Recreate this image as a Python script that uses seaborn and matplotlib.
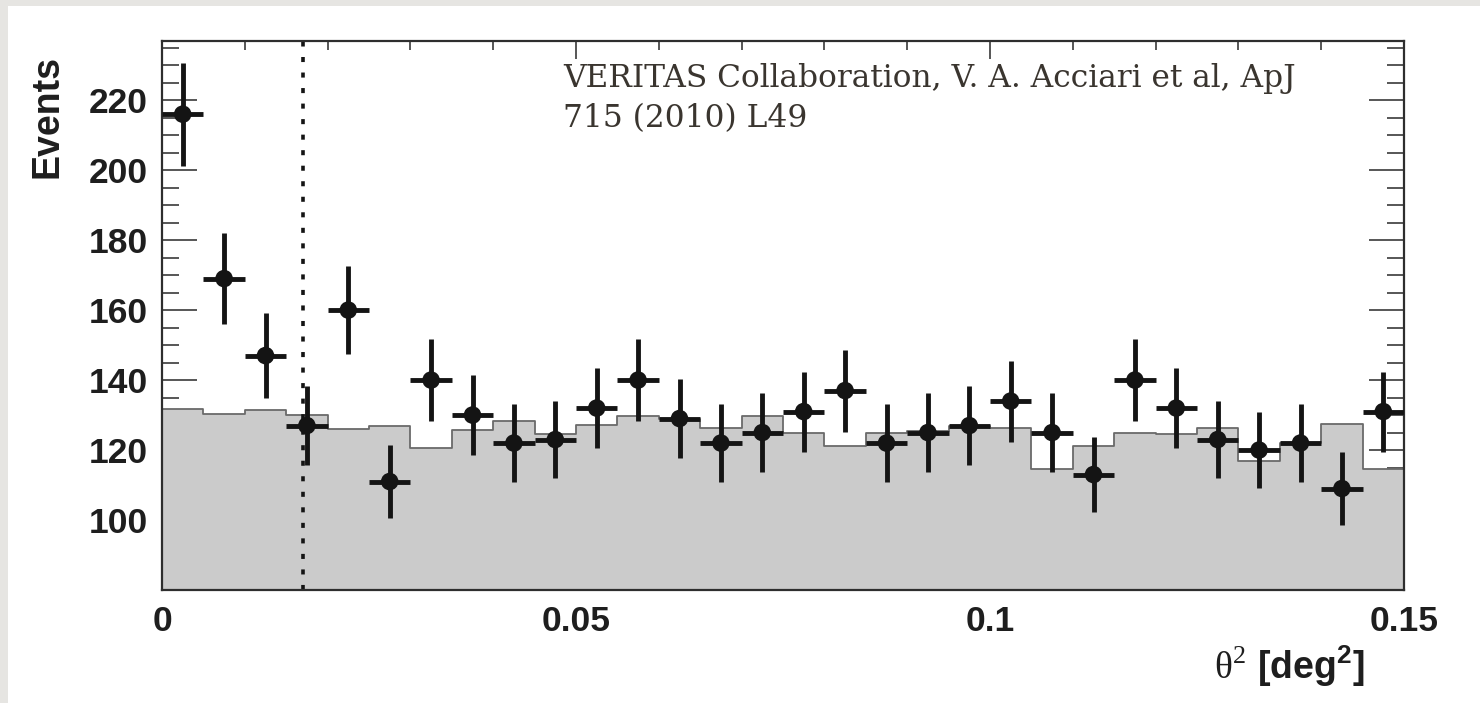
import numpy as np
import pandas as pd
import matplotlib
matplotlib.use("Agg")
import matplotlib.pyplot as plt
from matplotlib.patches import Rectangle
from matplotlib.ticker import MultipleLocator, FuncFormatter
import seaborn as sns

# theta^2 histogram: 30 bins of 0.005 deg^2 from 0 to 0.15
bin_width = 0.005
theta2_max = 0.15
on_counts = [216, 169, 147, 127, 160, 111, 140, 130, 122, 123,
             132, 140, 129, 122, 125, 131, 137, 122, 125, 127,
             134, 125, 113, 140, 132, 123, 120, 122, 109, 131]
bkg_counts = [131.8, 130.4, 131.4, 130.0, 126.1, 126.9, 120.5, 125.7, 128.3, 124.7,
              127.2, 129.6, 129.0, 126.2, 129.7, 124.8, 121.2, 124.8, 125.5, 126.9,
              126.2, 114.7, 121.2, 125.0, 124.5, 126.2, 116.9, 122.1, 127.4, 114.7]
theta2_cut = 0.017
x_ticks = [0, 0.05, 0.1, 0.15]
y_ticks = [100, 120, 140, 160, 180, 200, 220]
citation_lines = ["VERITAS Collaboration, V. A. Acciari et al, ApJ",
                  "715 (2010) L49"]

edges = np.linspace(0, theta2_max, len(on_counts) + 1)
centers = 0.5 * (edges[:-1] + edges[1:])
df = pd.DataFrame({"theta2": centers, "on": on_counts, "bkg": bkg_counts})
df["on_err"] = np.sqrt(df["on"])

sns.set_theme(style="ticks")
plt.rcParams["font.family"] = ["Liberation Sans", "DejaVu Sans"]
plt.rcParams["mathtext.fontset"] = "custom"
plt.rcParams["mathtext.rm"] = "Liberation Serif"
plt.rcParams["mathtext.bf"] = "Liberation Sans:bold"

W, H = 1480, 703
fig = plt.figure(figsize=(W / 100, H / 100), dpi=100, facecolor="white")
ax = fig.add_axes([162 / W, 1 - 590 / H, (1404 - 162) / W, (590 - 40.7) / H])
ax.set_facecolor("white")

# page border strips
fig.patches.append(Rectangle((0, 0), 8 / W, 1, transform=fig.transFigure,
                             facecolor="#e6e5e2", edgecolor="none", zorder=-5))
fig.patches.append(Rectangle((0, 1 - 6 / H), 1, 6 / H, transform=fig.transFigure,
                             facecolor="#e6e5e2", edgecolor="none", zorder=-5))

# background estimate as a filled step histogram
sns.histplot(data=df, x="theta2", weights="bkg", binwidth=bin_width,
             binrange=(0, theta2_max), element="step", fill=True,
             facecolor="#cbcbcb", edgecolor="#6a6a6a", linewidth=1.3, alpha=1,
             ax=ax, zorder=1)

# ON-region counts with Poisson errors
ax.errorbar(df["theta2"], df["on"], xerr=bin_width / 2, yerr=df["on_err"], fmt="none",
            ecolor="#141414", elinewidth=3.5, capsize=0, zorder=3)
sns.scatterplot(data=df, x="theta2", y="on", color="#141414", s=160,
                edgecolor="none", ax=ax, zorder=4)

# theta^2 cut
ax.axvline(theta2_cut, color="#141414", lw=2.6, ls=(0, (1.4, 2.9)), zorder=2)

ax.set_xlim(0, theta2_max)
ax.set_ylim(80, 237)
ax.set_xticks(x_ticks)
ax.set_yticks(y_ticks)
ax.xaxis.set_minor_locator(MultipleLocator(0.01))
ax.yaxis.set_minor_locator(MultipleLocator(5))
ax.xaxis.set_major_formatter(FuncFormatter(lambda v, p: f"{v:g}"))
ax.set_xlabel("")
ax.set_ylabel("")

ax.tick_params(axis="both", which="both", direction="in", top=True, right=True,
               colors="#3a3a3a", width=1.2)
ax.tick_params(axis="y", which="major", length=25, pad=10)
ax.tick_params(axis="y", which="minor", length=12.5)
ax.tick_params(axis="x", which="major", length=13, pad=11)
ax.tick_params(axis="x", which="minor", length=6.5)
for lab in ax.get_xticklabels() + ax.get_yticklabels():
    lab.set_fontsize(25.5)
    lab.set_fontweight("bold")
    lab.set_color("#1e1e1e")
for sp in ax.spines.values():
    sp.set_visible(True)
    sp.set_linewidth(1.6)
    sp.set_color("#2e2e2e")

# axis titles placed at the axis ends
fig.text(48 / W, 1 - 55 / H, "Events", rotation=90, ha="center", va="top",
         fontsize=27, fontweight="bold", color="#1e1e1e")
fig.text(1365 / W, 1 - 679 / H, r"[deg$^{\mathbf{2}}$]", ha="right", va="baseline",
         fontsize=27, fontweight="bold", color="#1e1e1e")
fig.text(1246 / W, 1 - 679 / H, r"$\mathrm{\theta}^{\mathrm{2}}$", ha="right",
         va="baseline", fontsize=27, color="#1e1e1e")

# citation, one baseline per line
for text, base_y in zip(citation_lines, [87, 127]):
    fig.text(563 / W, 1 - base_y / H, text, ha="left", va="baseline",
             fontsize=22.5, family=["DejaVu Serif"], color="#3a352f")

fig.savefig("out.png", dpi=100, facecolor="white")
